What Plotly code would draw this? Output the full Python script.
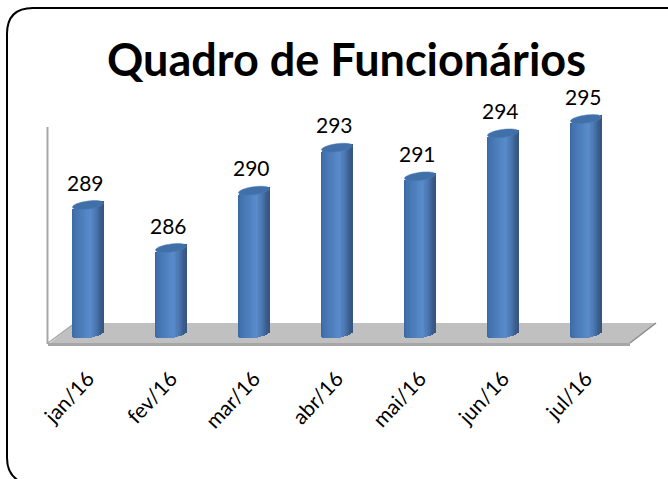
import numpy as np
import plotly.graph_objects as go

categories = ["jan/16", "fev/16", "mar/16", "abr/16", "mai/16", "jun/16", "jul/16"]
values = [289, 286, 290, 293, 291, 294, 295]
title_text = "Quadro de Funcionários"

W, H = 668, 479
FLOOR_VALUE = 280
PX_X0, PX_X1, PX_Y0, PX_Y1 = 48, 630, 343, 60
WALL_TOP_PX = 127
SLOT = 83.0
PX_PER_UNIT = 14.33
FIRST_CENTER = 88.0
BASE_PX = 334.0
xr = [(PX_X0 - FIRST_CENTER) / SLOT, (PX_X1 - FIRST_CENTER) / SLOT]
yr = [FLOOR_VALUE - (PX_Y0 - BASE_PX) / PX_PER_UNIT, FLOOR_VALUE + (BASE_PX - PX_Y1) / PX_PER_UNIT]
BAR_W = 31 / SLOT
ELL_B = 4.0 / PX_PER_UNIT     # half height of the cylinder ellipses
TILT = 2.0 / PX_PER_UNIT      # left side sits lower than right side

stops = [(0.0, (58, 104, 160)), (0.12, (68, 116, 176)), (0.6, (90, 140, 204)),
         (0.85, (68, 108, 162)), (1.0, (52, 82, 124))]


def shade(t):
    rgb = [np.interp(t, [s[0] for s in stops], [s[1][c] for s in stops]) for c in range(3)]
    return "rgb(%d,%d,%d)" % tuple(int(v) for v in rgb)


def px(x):
    return x / W


def py(y):
    return 1 - y / H


fig = go.Figure()

N = 26
for k in range(N):
    t = (k + 0.5) / N
    u = 2 * t - 1
    dx = u * BAR_W / 2
    sag = ELL_B * np.sqrt(max(0, 1 - u * u))
    tilt = TILT * u
    fig.add_trace(go.Bar(
        x=[i + dx for i in range(len(values))],
        y=[v - FLOOR_VALUE + tilt + sag for v in values],
        base=[FLOOR_VALUE - sag + tilt] * len(values),
        width=BAR_W / N * 1.25,
        marker=dict(color=shade(t), line=dict(width=0)),
        cliponaxis=False, showlegend=False, hoverinfo="skip",
    ))

# top caps of the cylinders
theta = np.linspace(0, 2 * np.pi, 41)
cap_x, cap_y = [], []
for i, v in enumerate(values):
    cap_x += list(i + np.cos(theta) * BAR_W / 2) + [None]
    cap_y += list(v + np.sin(theta) * ELL_B + np.cos(theta) * TILT) + [None]
fig.add_trace(go.Scatter(
    x=cap_x, y=cap_y, mode="lines", fill="toself", fillcolor="#416fa8",
    line=dict(color="#4a7cb8", width=0.5, simplify=False), cliponaxis=False,
    showlegend=False, hoverinfo="skip",
))

shapes = [
    # floor
    dict(type="path", xref="paper", yref="paper", layer="below",
         path=f"M {px(50)} {py(343)} L {px(630)} {py(343)} L {px(656)} {py(323)} L {px(75)} {py(323)} Z",
         fillcolor="#c0c0c0", line=dict(width=0)),
    dict(type="line", xref="paper", yref="paper", layer="below",
         x0=px(48), y0=py(343), x1=px(75), y1=py(323), line=dict(color="#a6a6a6", width=1.5)),
    dict(type="line", xref="paper", yref="paper", layer="below",
         x0=px(630), y0=py(343), x1=px(656), y1=py(323), line=dict(color="#8c8c8c", width=1.5)),
    # back wall edge
    dict(type="line", xref="paper", yref="paper", layer="below",
         x0=px(47.5), y0=py(344), x1=px(47.5), y1=py(WALL_TOP_PX), line=dict(color="#a6a6a6", width=2)),
    # rounded outer frame
    dict(type="path", xref="paper", yref="paper", layer="above",
         path=(f"M {px(669)} {py(8)} L {px(33)} {py(8)} Q {px(7)} {py(8)} {px(7)} {py(34)} "
               f"L {px(7)} {py(458)} Q {px(7)} {py(474)} {px(19)} {py(481)}"),
         fillcolor="rgba(0,0,0,0)", line=dict(color="#000000", width=2)),
]

annotations = [
    dict(x=i, y=v, text=str(v), showarrow=False, xref="x", yref="y", xshift=-3, yshift=23,
         font=dict(family="Lato", size=21, color="#000000"))
    for i, v in enumerate(values)
]
annotations.append(dict(
    x=346 / W, y=py(59), xref="paper", yref="paper", xanchor="center", yanchor="middle",
    text=f"<b>{title_text}</b>", showarrow=False,
    font=dict(family="Lato", size=45, color="#000000"),
))

fig.update_layout(
    width=W, height=H, autosize=False,
    margin=dict(l=0, r=0, t=0, b=0, autoexpand=False),
    paper_bgcolor="#ffffff", plot_bgcolor="rgba(0,0,0,0)",
    barmode="overlay", bargap=0,
    xaxis=dict(domain=[px(PX_X0), px(PX_X1)], range=xr, tickmode="array",
               tickvals=list(range(len(categories))), ticktext=categories,
               tickangle=-47, ticks="outside", ticklen=12, tickcolor="rgba(0,0,0,0)",
               tickfont=dict(family="Lato", size=21, color="#000000"),
               showline=True, linecolor="#a6a6a6", linewidth=3,
               showgrid=False, zeroline=False, fixedrange=True),
    yaxis=dict(domain=[py(PX_Y0), py(PX_Y1)], range=yr, showticklabels=False, ticks="",
               showline=False,
               showgrid=False, zeroline=False, fixedrange=True),
    shapes=shapes, annotations=annotations,
)

fig.write_html(
    "out.html",
    config={"displayModeBar": False},
    post_script="document.body.style.margin='0';document.body.style.overflow='hidden';",
)
